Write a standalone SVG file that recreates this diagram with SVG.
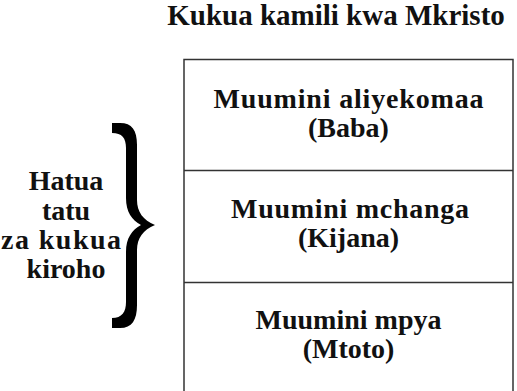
<svg xmlns="http://www.w3.org/2000/svg" width="517" height="391" viewBox="0 0 517 391">
<style>
text{font-family:'Liberation Serif','Times New Roman',serif;font-weight:700;fill:#111;text-anchor:middle}
.t{font-size:29px}
.b{font-size:28px}
.l{font-size:28px}
.ln{stroke:#333;stroke-width:1.5;fill:none}
</style>
<rect width="517" height="391" fill="#fff"/>
<g id="title"><text class="t" x="336" y="25">Kukua kamili kwa Mkristo</text></g>
<g id="connectors">
<path class="ln" d="M184 400 V59.5 H513 V400"/>
</g>
<g id="node-baba">
<text class="b" x="348.5" y="108" textLength="270">Muumini aliyekomaa</text>
<text class="b" x="348.5" y="137">(Baba)</text>
</g>
<g id="node-kijana">
<line class="ln" x1="184" y1="170.5" x2="513" y2="170.5"/>
<text class="b" x="350" y="218" textLength="238">Muumini mchanga</text>
<text class="b" x="348.5" y="247">(Kijana)</text>
</g>
<g id="node-mtoto">
<line class="ln" x1="184" y1="282.5" x2="513" y2="282.5"/>
<text class="b" x="348.5" y="329">Muumini mpya</text>
<text class="b" x="348.5" y="358">(Mtoto)</text>
</g>
<g id="brace">
<path fill="#000" d="M112 123 L120 123 C132 123 137 130 137 145 L137 200 C137 212 143 220 155 225 C143 230 137 238 137 250 L137 305 C137 320 132 328 120 328 L112 328 L112 318 C122 318 126 312 126 302 L126 252 C126 238 132 230 141 225 C132 220 126 212 126 198 L126 148 C126 138 122 133 112 133 Z"/>
</g>
<g id="label">
<text class="l" x="66" y="190">Hatua</text>
<text class="l" x="66" y="220">tatu</text>
<text class="l" x="61" y="249" textLength="120">za kukua</text>
<text class="l" x="66" y="278">kiroho</text>
</g>
</svg>
